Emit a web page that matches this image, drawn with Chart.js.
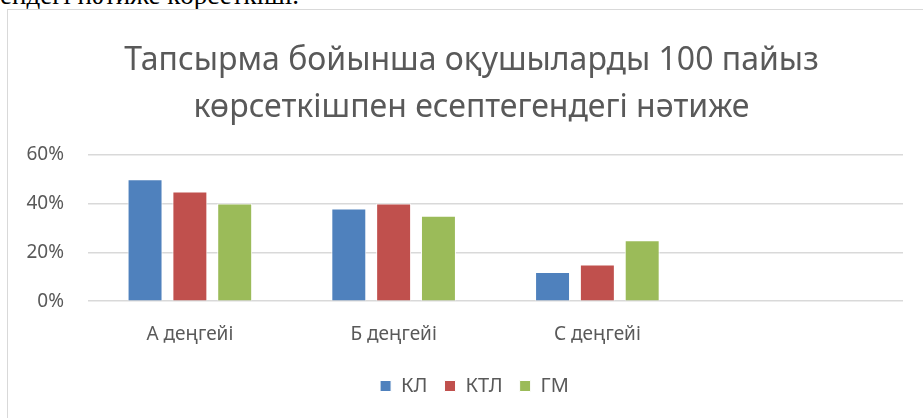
<!DOCTYPE html>
<html>
<head>
<meta charset="utf-8">
<script src="https://cdn.jsdelivr.net/npm/chart.js@4"></script>
<style>
  body { margin: 0; background: #fff; overflow: hidden; }
  #topText {
    position: absolute; left: 0; top: -18px;
    font-family: "Liberation Serif", serif; font-size: 27px; line-height: 27px; color: #000;
    white-space: nowrap;
  }
  #box {
    position: absolute; left: 7px; top: 9px; width: 930px; height: 420px;
    border: 1px solid #d9d9d9; box-sizing: border-box;
  }
</style>
</head>
<body>
<div id="topText">ендегі нәтиже көрсеткіші.</div>
<div id="box"><canvas id="chart"></canvas></div>
<script>
const categories = ['А деңгейі', 'Б деңгейі', 'С деңгейі', ''];
const seriesNames = ['КЛ', 'КТЛ', 'ГМ'];
const klValues = [0.50, 0.38, 0.12, null];
const ktlValues = [0.45, 0.40, 0.15, null];
const gmValues = [0.40, 0.35, 0.25, null];
const colors = ['#4f81bd', '#c0504d', '#9bbb59'];
const yTicks = [0, 0.2, 0.4, 0.6];

const fontFamily = '"Noto Sans", sans-serif';
const gray = '#595959';

function makeSet(i, values) {
    return {
        label: seriesNames[i],
        data: values,
        backgroundColor: colors[i],
        borderColor: '#ffffff',
        borderWidth: 1,
        categoryPercentage: 0.66,
        barPercentage: 0.78,
    };
}

// title and legend sit a bit right of the plot centre in the original
const shiftBlocks = {
    id: 'shiftBlocks',
    afterLayout(chart) {
        if (chart.titleBlock) {
            chart.titleBlock.left += 16;
            chart.titleBlock.right += 16;
        }
        if (chart.legend) {
            chart.legend.left += 19;
            chart.legend.right += 19;
        }
    }
};

const config = {
    type: 'bar',
    data: {
        labels: categories,
        datasets: [
            makeSet(0, klValues),
            makeSet(1, ktlValues),
            makeSet(2, gmValues),
        ],
    },
    options: {
        responsive: true,
        maintainAspectRatio: false,
        animation: false,
        layout: {
            padding: { left: 0, right: 33, top: 14, bottom: 22 }
        },
        plugins: {
            title: {
                display: true,
                text: ['Тапсырма бойынша оқушыларды 100 пайыз', 'көрсеткішпен есептегендегі нәтиже'],
                color: gray,
                font: { family: fontFamily, size: 32, weight: 'normal', lineHeight: 1.45 },
                padding: { top: 14, bottom: 24 },
            },
            legend: {
                position: 'bottom',
                labels: {
                    color: gray,
                    font: { family: fontFamily, size: 20 },
                    boxWidth: 11,
                    boxHeight: 11,
                    padding: 17,
                },
            },
            tooltip: { enabled: false },
        },
        scales: {
            x: {
                grid: { display: false },
                border: { display: false },
                ticks: {
                    color: gray,
                    font: { family: fontFamily, size: 19 },
                    padding: 14,
                },
                afterFit: function (axis) {
                    axis.height -= 1;
                },
            },
            y: {
                min: 0,
                max: 0.6,
                afterBuildTicks: function (axis) {
                    axis.ticks = yTicks.map(v => ({ value: v }));
                },
                afterFit: function (axis) {
                    axis.width = 80;
                },
                grid: { color: '#d9d9d9', lineWidth: 1.5, drawTicks: false },
                border: { display: false },
                ticks: {
                    color: gray,
                    font: { family: fontFamily, size: 19 },
                    padding: 24,
                    callback: function (v) { return Math.round(v * 100) + '%'; },
                },
            },
        },
    },
    plugins: [shiftBlocks],
};

const chart = new Chart(document.getElementById('chart'), config);
</script>
</body>
</html>
